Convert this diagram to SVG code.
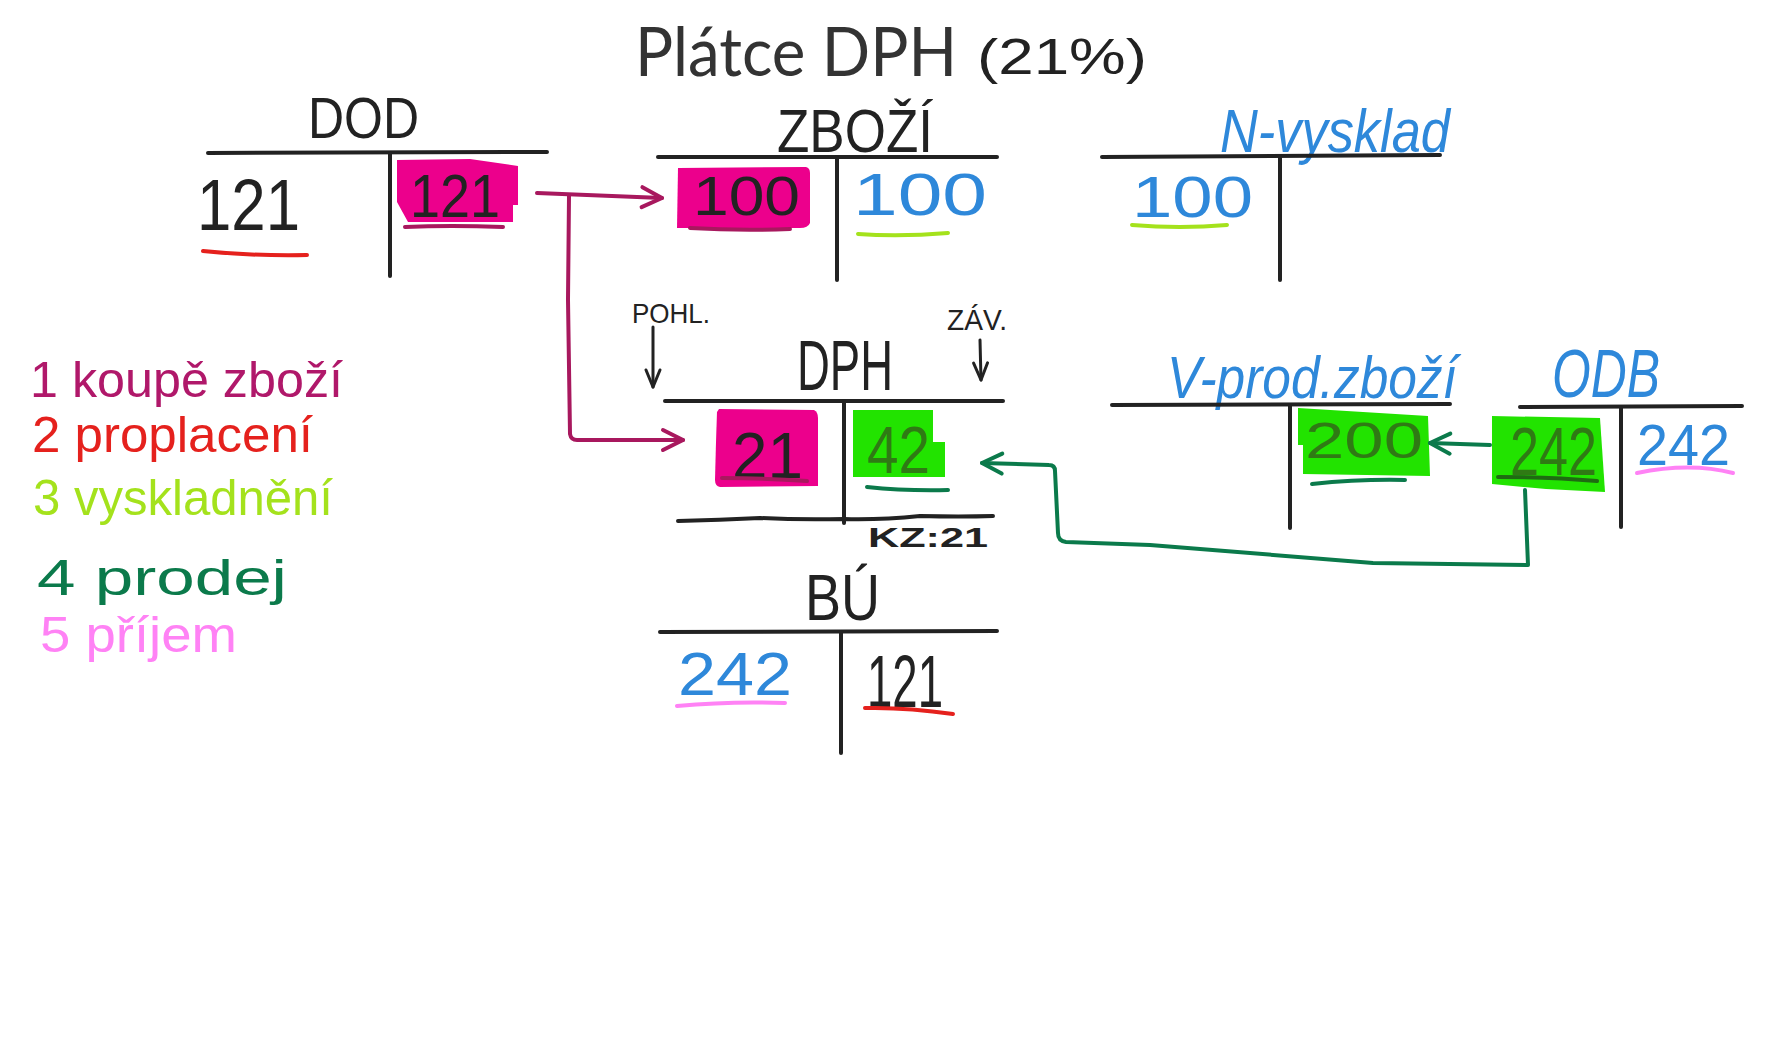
<svg xmlns="http://www.w3.org/2000/svg" width="1777" height="1049" viewBox="0 0 1777 1049">
<style>
.hw{font-family:"Liberation Sans","DejaVu Sans",sans-serif;}
.it{font-style:italic;}
.k{fill:#222;}
.blue{fill:#2e88da;}
.dg{fill:#2f7a14;}
.ln{stroke:#222;stroke-width:4;stroke-linecap:round;fill:none;}
.ul{stroke-width:4;stroke-linecap:round;fill:none;}
.pk{fill:#ec008c;}
.gr{fill:#22e300;}
.cp{stroke:#a8185e;stroke-width:4;stroke-linecap:round;stroke-linejoin:round;fill:none;}
.cg{stroke:#0b7a4b;stroke-width:4;stroke-linecap:round;stroke-linejoin:round;fill:none;}
.ck{stroke:#222;stroke-width:3;stroke-linecap:round;fill:none;}
</style>
<defs>
<marker id="ahP" viewBox="0 0 24 24" refX="22" refY="12" markerWidth="24" markerHeight="24" markerUnits="userSpaceOnUse" orient="auto" overflow="visible">
<path d="M2,2 L22,12 L2,22" fill="none" stroke="#a8185e" stroke-width="4" stroke-linecap="round" stroke-linejoin="round"/>
</marker>
<marker id="ahG" viewBox="0 0 24 24" refX="22" refY="12" markerWidth="24" markerHeight="24" markerUnits="userSpaceOnUse" orient="auto" overflow="visible">
<path d="M2,2 L22,12 L2,22" fill="none" stroke="#0b7a4b" stroke-width="4" stroke-linecap="round" stroke-linejoin="round"/>
</marker>
<marker id="ahK" viewBox="0 0 20 18" refX="19" refY="9" markerWidth="20" markerHeight="18" markerUnits="userSpaceOnUse" orient="auto" overflow="visible">
<path d="M2,2 L19,9 L2,16" fill="none" stroke="#222" stroke-width="3" stroke-linecap="round" stroke-linejoin="round"/>
</marker>
</defs>
<rect x="0" y="0" width="1777" height="1049" fill="#ffffff"/>

<g id="title">
<text x="635" y="76" font-family="Lato, 'Noto Sans', sans-serif" font-size="67" fill="#333" textLength="322" lengthAdjust="spacingAndGlyphs">Plátce DPH</text>
<text class="hw k" x="977" y="74" font-size="50" textLength="170" lengthAdjust="spacingAndGlyphs">(21%)</text>
</g>

<g id="acc-dod">
<text class="hw k" x="308" y="138" font-size="58" textLength="111" lengthAdjust="spacingAndGlyphs">DOD</text>
<path class="ln" d="M208,153 L547,152"/>
<path class="ln" d="M390,153 L390,276"/>
<path class="pk" d="M397,160 L470,159 L518,166 L518,205 L513,205 L513,222 L408,222 L397,202 Z"/>
<text class="hw k" x="197" y="230" font-size="72" textLength="103" lengthAdjust="spacingAndGlyphs">121</text>
<text class="hw k" x="410" y="217" font-size="62" textLength="90" lengthAdjust="spacingAndGlyphs">121</text>
<path class="ul" stroke="#e5211d" d="M203,251 Q250,256 307,255"/>
<path class="ul" stroke="#a8185e" d="M405,227 Q450,225 503,227"/>
</g>

<g id="acc-zbozi">
<text class="hw k" x="777" y="152" font-size="62" textLength="156" lengthAdjust="spacingAndGlyphs">ZBOŽÍ</text>
<path class="ln" d="M658,157 L997,157"/>
<path class="ln" d="M837,157 L837,280"/>
<path class="pk" d="M678,168 L806,167 Q810,168 810,173 L810,223 Q808,228 800,228 L677,228 Z"/>
<text class="hw k" x="693" y="215" font-size="56" textLength="107" lengthAdjust="spacingAndGlyphs">100</text>
<text class="hw blue" x="853" y="215" font-size="60" textLength="134" lengthAdjust="spacingAndGlyphs">100</text>
<path class="ul" stroke="#a8185e" d="M690,228 Q740,231 790,229"/>
<path class="ul" stroke="#a4e21c" d="M858,234 Q900,237 948,233"/>
</g>

<g id="acc-nvysklad">
<text class="hw it blue" x="1220" y="152" font-size="62" textLength="230" lengthAdjust="spacingAndGlyphs">N-vysklad</text>
<path class="ln" d="M1102,157 L1440,155"/>
<path class="ln" d="M1280,157 L1280,280"/>
<text class="hw blue" x="1132" y="217" font-size="58" textLength="121" lengthAdjust="spacingAndGlyphs">100</text>
<path class="ul" stroke="#a4e21c" d="M1132,225 Q1180,229 1227,225"/>
</g>

<g id="acc-dph">
<text class="hw k" x="632" y="323" font-size="28" textLength="78" lengthAdjust="spacingAndGlyphs">POHL.</text>
<text class="hw k" x="947" y="330" font-size="30" textLength="60" lengthAdjust="spacingAndGlyphs">ZÁV.</text>
<text class="hw k" x="797" y="390" font-size="70" textLength="96" lengthAdjust="spacingAndGlyphs">DPH</text>
<path class="ln" d="M665,401 L1003,401"/>
<path class="ln" d="M844,401 L844,523"/>
<path class="pk" d="M719,409 L814,410 Q818,412 818,418 L818,486 L720,487 Q715,486 715,480 L716,442 L717,412 Z"/>
<path class="gr" d="M853,410 L933,410 L933,442 L945,442 L945,477 L853,477 Z"/>
<text class="hw k" x="732" y="478" font-size="64" textLength="71" lengthAdjust="spacingAndGlyphs">21</text>
<text class="hw dg" x="867" y="473" font-size="66" textLength="63" lengthAdjust="spacingAndGlyphs">42</text>
<path class="ul" stroke="#a8185e" d="M722,478 Q765,478 807,481"/>
<path class="ul" stroke="#0b7a4b" d="M867,487 Q905,491 948,490"/>
<path class="ln" stroke-width="5" d="M678,521 Q720,520 760,518 Q800,520 844,519 Q880,520 920,516 Q960,517 993,516"/>
<text class="hw k" x="868" y="547" font-size="28" font-weight="bold" textLength="120" lengthAdjust="spacingAndGlyphs">KZ:21</text>
</g>

<g id="acc-bu">
<text class="hw k" x="805" y="620" font-size="64" textLength="75" lengthAdjust="spacingAndGlyphs">BÚ</text>
<path class="ln" d="M660,632 L997,631"/>
<path class="ln" d="M841,632 L841,753"/>
<text class="hw blue" x="678" y="695" font-size="62" textLength="114" lengthAdjust="spacingAndGlyphs">242</text>
<text class="hw k" x="867" y="707" font-size="74" textLength="76" lengthAdjust="spacingAndGlyphs">121</text>
<path class="ul" stroke="#ff82f5" d="M677,706 Q730,701 785,703"/>
<path class="ul" stroke="#e5211d" d="M865,708 Q905,707 953,714"/>
</g>

<g id="acc-vprod">
<text class="hw it blue" x="1167" y="398" font-size="60" textLength="290" lengthAdjust="spacingAndGlyphs">V-prod.zboží</text>
<path class="ln" d="M1112,405 L1450,404"/>
<path class="ln" d="M1290,406 L1290,528"/>
<path class="gr" d="M1298,408 L1428,416 L1430,476 L1303,474 L1303,445 L1298,445 Z"/>
<text class="hw dg" x="1305" y="458" font-size="50" textLength="118" lengthAdjust="spacingAndGlyphs">200</text>
<path class="ul" stroke="#0b7a4b" d="M1312,484 Q1360,479 1405,480"/>
</g>

<g id="acc-odb">
<text class="hw it blue" x="1552" y="397" font-size="68" textLength="108" lengthAdjust="spacingAndGlyphs">ODB</text>
<path class="ln" d="M1520,407 L1742,406"/>
<path class="ln" d="M1621,408 L1621,527"/>
<path class="gr" d="M1492,416 L1600,418 L1605,492 L1546,489 L1492,484 Z"/>
<text class="hw dg" x="1510" y="475" font-size="68" textLength="87" lengthAdjust="spacingAndGlyphs">242</text>
<text class="hw blue" x="1637" y="465" font-size="58" textLength="93" lengthAdjust="spacingAndGlyphs">242</text>
<path class="ul" stroke="#1f6b12" d="M1498,477 Q1550,477 1597,481"/>
<path class="ul" stroke="#ff82f5" d="M1637,473 Q1690,462 1733,473"/>
</g>

<g id="legend">
<text class="hw" fill="#b0186a" x="30" y="397" font-size="50" textLength="313" lengthAdjust="spacingAndGlyphs">1 koupě zboží</text>
<text class="hw" fill="#e5211d" x="32" y="452" font-size="50" textLength="281" lengthAdjust="spacingAndGlyphs">2 proplacení</text>
<text class="hw" fill="#a4e21c" x="33" y="515" font-size="50" textLength="300" lengthAdjust="spacingAndGlyphs">3 vyskladnění</text>
<text class="hw" fill="#0b7a4b" x="37" y="595" font-size="50" textLength="250" lengthAdjust="spacingAndGlyphs">4 prodej</text>
<text class="hw" fill="#ff82f5" x="40" y="652" font-size="50" textLength="197" lengthAdjust="spacingAndGlyphs">5 příjem</text>
</g>

<g id="connectors">
<path class="cp" d="M537,193 L662,198" marker-end="url(#ahP)"/>
<path class="cp" d="M569,196 L568,300 L570,434 Q571,440 577,440 L683,440" marker-end="url(#ahP)"/>
<path class="cg" d="M1525,490 L1528,565 L1373,563 L1150,545 L1066,542 Q1058,541 1058,533 L1055,471 Q1055,465 1049,465 L982,463" marker-end="url(#ahG)"/>
<path class="cg" d="M1490,445 L1430,443" marker-end="url(#ahG)"/>
<path class="ck" d="M653,327 L653,387" marker-end="url(#ahK)"/>
<path class="ck" d="M980,340 L981,380" marker-end="url(#ahK)"/>
</g>
</svg>
